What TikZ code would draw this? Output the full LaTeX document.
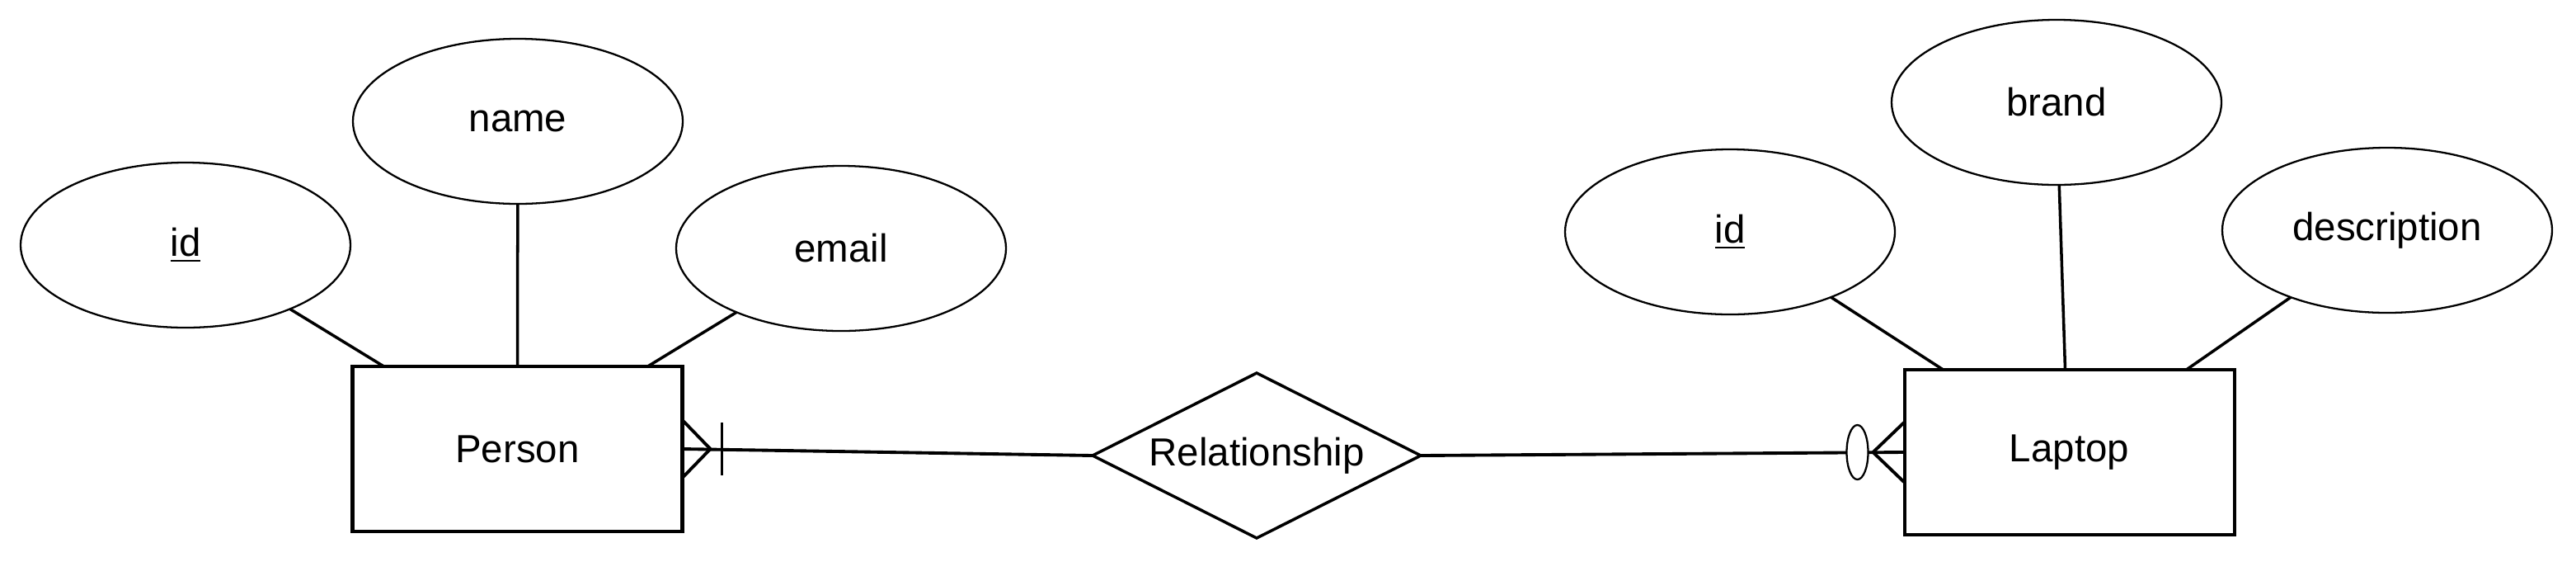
\documentclass[tikz,border=0pt]{standalone}
\usepackage{fontspec}
\setmainfont{Liberation Sans}
\usetikzlibrary{shapes.geometric}

\begin{document}
\begin{tikzpicture}[
  every node/.style={font=\fontsize{13.5}{16}\selectfont},
  entity/.style={draw, line width=1.15pt, minimum width=4cm, minimum height=2cm, inner sep=0pt, outer sep=0pt},
  attrib/.style={draw, ellipse, line width=0.65pt, minimum width=4cm, minimum height=2cm, inner sep=0pt, outer sep=0pt},
  relship/.style={draw, diamond, aspect=2, line width=1pt, minimum width=3.98cm, minimum height=2cm, inner sep=0pt, outer sep=0pt},
  link/.style={line width=1pt},
  card/.style={line width=1.1pt}
]
\useasboundingbox (0,0) rectangle (31.24,6.8);

% entities and relationship
\node[entity] (Person) at (6.275,1.36) {Person};
\node[entity] (Laptop) at (25.095,1.32) {Laptop};
\node[relship] (Rel) at (15.24,1.28) {Relationship};

% attributes of Person
\node[attrib] (Pid) at (2.25,3.83) {\underline{id}};
\node[attrib] (Pname) at (6.28,5.33) {name};
\node[attrib] (Pemail) at (10.20,3.79) {email};

% attributes of Laptop
\node[attrib] (Lid) at (20.98,3.99) {\underline{id}};
\node[attrib] (Lbrand) at (24.94,5.56) {brand};
\node[attrib] (Ldesc) at (28.95,4.01) {description};

\path[link]
(Pid) edge ([xshift=0.38cm]Person.north west)
(Pname) edge (Person.north)
(Pemail) edge ([xshift=-0.42cm]Person.north east)
(Lid) edge ([xshift=0.47cm]Laptop.north west)
(Lbrand) edge ([xshift=-0.05cm]Laptop.north)
(Ldesc) edge ([xshift=-0.58cm]Laptop.north east);

% relationship lines
\path[card]
(Person.east) edge (Rel.west)
(Rel.east) edge (Laptop.west);

% one and many at Person
\draw[card] ([yshift=0.35cm]Person.east) -- ([xshift=0.34cm]Person.east) -- ([yshift=-0.35cm]Person.east);
\draw[card] ([xshift=0.48cm,yshift=0.32cm]Person.east) -- ([xshift=0.48cm,yshift=-0.32cm]Person.east);

% zero or many at Laptop
\draw[card] ([yshift=0.365cm]Laptop.west) -- ([xshift=-0.38cm]Laptop.west) -- ([yshift=-0.365cm]Laptop.west);
\node[draw, ellipse, fill=white, line width=0.65pt, minimum width=0.26cm, minimum height=0.66cm, inner sep=0pt] (Lzero) at ([xshift=-0.57cm]Laptop.west) {};
\end{tikzpicture}
\end{document}
